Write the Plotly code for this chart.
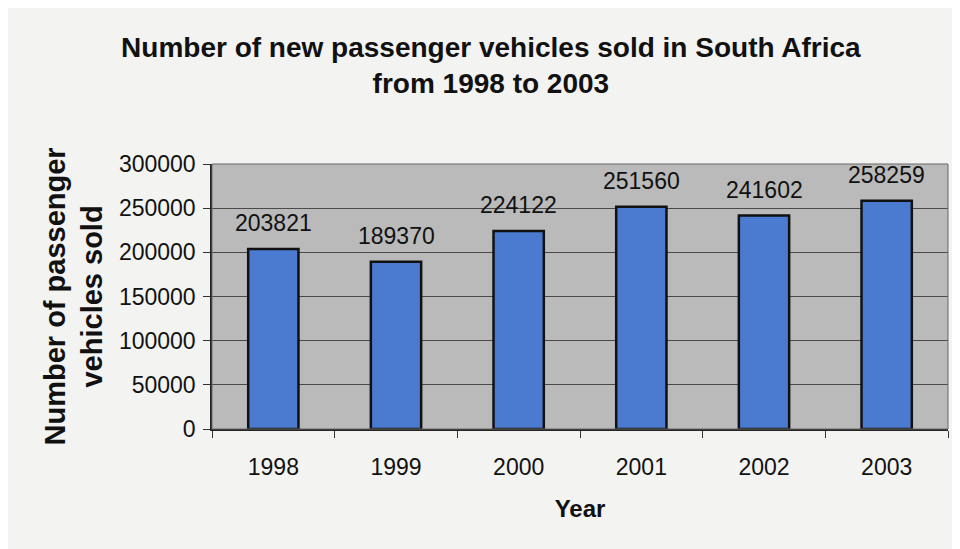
import plotly.graph_objects as go

years = [1998, 1999, 2000, 2001, 2002, 2003]
vehicles_sold = [203821, 189370, 224122, 251560, 241602, 258259]
y_ticks = [0, 50000, 100000, 150000, 200000, 250000, 300000]

FONT = "Liberation Sans, Arial, Helvetica, sans-serif"

fig = go.Figure()
fig.add_trace(go.Bar(
    x=years, y=vehicles_sold,
    width=0.41,
    marker=dict(color="#4a7bd0", line=dict(color="#111111", width=2.5)),
    hoverinfo="x+y",
))

for yr, v in zip(years, vehicles_sold):
    fig.add_annotation(x=yr, y=v, xref="x", yref="y", text=str(v), showarrow=False,
                       xanchor="center", yanchor="middle", yshift=26,
                       font=dict(family=FONT, size=23, color="#111111"))

# y-axis title (two lines, rotated)
fig.add_annotation(xref="paper", yref="paper", x=0, y=0.5, xshift=-139,
                   text="<b>Number of passenger<br>vehicles sold</b>",
                   textangle=-90, showarrow=False, xanchor="center", yanchor="middle",
                   font=dict(family=FONT, size=29, color="#111111"))

boundaries = [y - 0.5 for y in years] + [years[-1] + 0.5]

fig.update_layout(
    width=960, height=549,
    margin=dict(l=204, r=20, t=156, b=128),
    paper_bgcolor="#f3f3f2",
    plot_bgcolor="#bababa",
    showlegend=False,
    title=dict(text="<b>Number of new passenger vehicles sold in South Africa<br>from 1998 to 2003</b>",
               x=0.503, xanchor="center", xref="container", y=0.911, yanchor="middle",
               font=dict(family=FONT, size=28, color="#111111")),
    xaxis=dict(
        type="linear", range=[years[0] - 0.5, years[-1] + 0.5],
        tickmode="array", tickvals=years, ticktext=[str(y) for y in years],
        showgrid=False, zeroline=False, ticks="",
        ticklabelstandoff=17,
        minor=dict(tickmode="array", tickvals=boundaries, ticks="outside", ticklen=7,
                   tickcolor="#333", showgrid=False),
        showline=True, linecolor="#222", linewidth=1.5,
        tickfont=dict(family=FONT, size=23, color="#111111"),
        title=dict(text="<b>Year</b>", font=dict(family=FONT, size=24, color="#111111"), standoff=21),
    ),
    yaxis=dict(
        range=[0, 300000], tickmode="array", tickvals=y_ticks, ticktext=[str(t) for t in y_ticks],
        showgrid=True, gridcolor="#4a4a4a", gridwidth=1,
        ticks="outside", ticklen=7, tickcolor="#333",
        ticklabelstandoff=3,
        showline=True, linecolor="#222", linewidth=1.5,
        tickfont=dict(family=FONT, size=23, color="#111111"),
        zeroline=False,
    ),
)

fig.add_shape(type="rect", xref="paper", yref="paper", x0=0, x1=1, y0=0, y1=1,
              line=dict(color="#666666", width=1), layer="above")

fig.write_html("out.html")
